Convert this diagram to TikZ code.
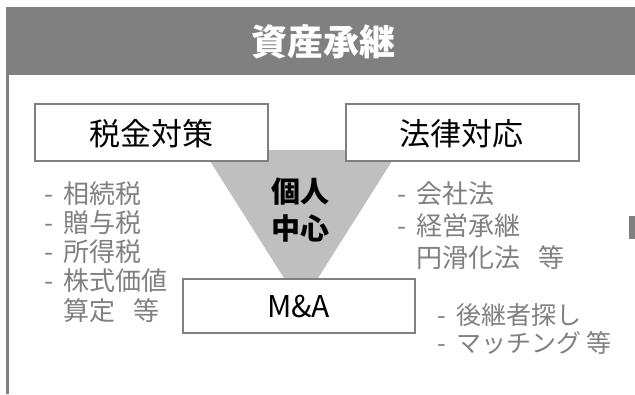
\documentclass[tikz,border=0pt]{standalone}
\usepackage{fontspec}
\setmainfont{Noto Sans CJK JP}
\definecolor{hdrgray}{HTML}{808080}
\definecolor{tri}{HTML}{BFBFBF}
\definecolor{txtgray}{HTML}{808080}
\newcommand{\dashitem}{\makebox[19pt][l]{-}}
\newcommand{\dashskip}{\hspace*{19pt}}
\tikzset{
  boxnode/.style={draw=hdrgray, line width=1.5pt, fill=white, inner sep=0pt},
  boxtext/.style={font=\fontsize{31}{31}\selectfont, text=black, inner sep=0pt},
  itemL/.style={anchor=base west, inner sep=0pt, text=txtgray, font=\fontsize{26}{26}\selectfont},
  itemR/.style={anchor=base west, inner sep=0pt, text=txtgray, font=\fontsize{25}{25}\selectfont}
}
\begin{document}
\begin{tikzpicture}[x=1pt,y=-1pt]
\useasboundingbox (0,0) rectangle (635,394);
% container
\fill[hdrgray] (6,6.5) rectangle (635,75);
\fill[hdrgray] (6,75) rectangle (8.5,394);
\node[text=white, font=\fontsize{36}{36}\selectfont\bfseries, inner sep=0pt] (title) at (323,41.5) {資産承継};
% triangle
\fill[tri] (203,150) -- (399,150) -- (301,305) -- cycle;
% boxes
\node[boxnode, minimum width=233pt, minimum height=57pt] (tax) at (151.5,132.5) {};
\node[boxtext] (taxt) at (151,133.5) {税金対策};
\node[boxnode, minimum width=233pt, minimum height=57pt] (law) at (462.5,132.5) {};
\node[boxtext] (lawt) at (461,133.5) {法律対応};
\node[boxnode, minimum width=232pt, minimum height=54pt] (ma) at (299,306) {};
\node[boxtext, font=\fontsize{30}{30}\selectfont] (mat) at (298.5,307) {M\&A};
% center text
\node[align=center, inner sep=0pt, font=\fontsize{29}{37}\selectfont\bfseries] (center) at (300,210.5) {個人\\中心};
% left list
\node[itemL] (l1) at (44,203) {\dashitem 相続税};
\node[itemL] (l2) at (44,232.3) {\dashitem 贈与税};
\node[itemL] (l3) at (44,261.6) {\dashitem 所得税};
\node[itemL] (l4) at (44,290.9) {\dashitem 株式価値};
\node[itemL] (l5) at (44,320.2) {\dashskip 算定\hspace{0.7em}等};
% right list
\node[itemL] (r1) at (397,203) {\dashitem 会社法};
\node[itemL] (r2) at (397,235) {\dashitem 経営承継};
\node[itemL] (r3) at (397,267) {\dashskip 円滑化法\hspace{0.7em}等};
\node[itemR] (r4) at (437,324.5) {\dashitem 後継者探し};
\node[itemR] (r5) at (437,352.5) {\dashitem マッチング 等};
% cut-off element at right
\fill[hdrgray] (629,216) rectangle (635,239);
\end{tikzpicture}
\end{document}
